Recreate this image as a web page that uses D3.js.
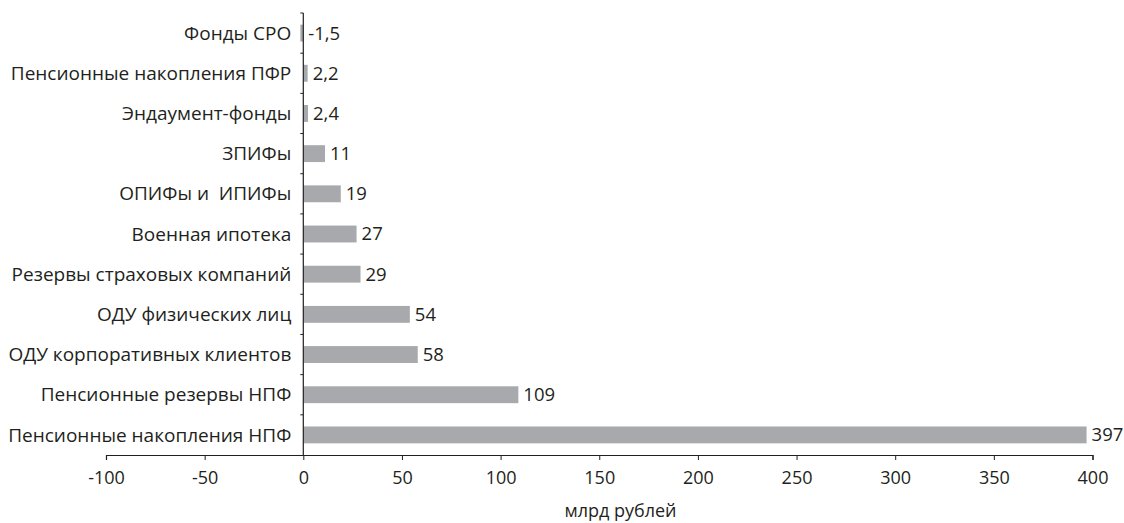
<!DOCTYPE html>
<html><head><meta charset="utf-8">
<script src="https://cdn.jsdelivr.net/npm/d3@7"></script>
<style>body{margin:0;background:#fff}text{font-family:"Open Sans","Noto Sans",sans-serif;fill:#231f20;white-space:pre}</style>
</head><body><svg id="c" width="1124" height="523"></svg>
<script>
const categories = ["Фонды СРО","Пенсионные накопления ПФР","Эндаумент-фонды","ЗПИФы","ОПИФы и  ИПИФы","Военная ипотека","Резервы страховых компаний","ОДУ физических лиц","ОДУ корпоративных клиентов","Пенсионные резервы НПФ","Пенсионные накопления НПФ"];
const values = [-1.5,2.2,2.4,11,19,27,29,54,58,109,397];
const valueLabels = ["-1,5","2,2","2,4","11","19","27","29","54","58","109","397"];
const xTicks = [-100,-50,0,50,100,150,200,250,300,350,400];
const xTitle = "млрд рублей";

const svg = d3.select("#c");
const x = d3.scaleLinear().domain([-100,400]).range([106,1092.5]);
const y = d3.scaleBand().domain(categories).range([13,455]).paddingInner(0.58).paddingOuter(0.29);
const step = y.step();

svg.selectAll("rect.bar").data(values).join("rect")
  .attr("x",d=>x(Math.min(0,d))).attr("width",d=>Math.abs(x(d)-x(0)))
  .attr("y",(d,i)=>y(categories[i])).attr("height",y.bandwidth())
  .attr("fill","#a7a9ac");

svg.selectAll("text.val").data(values).join("text")
  .attr("x",d=>Math.max(x(d),x(0))+5).attr("y",(d,i)=>y(categories[i])+y.bandwidth()/2)
  .attr("dy","0.35em").attr("font-size",18.5).text((d,i)=>valueLabels[i]);

// y axis
const ya = svg.append("g");
ya.append("line").attr("x1",x(0)).attr("x2",x(0)).attr("y1",13).attr("y2",455).attr("stroke","#231f20").attr("stroke-width",1.2);
d3.range(categories.length).forEach(i=>{
  const yy = 13 + i*step;
  ya.append("line").attr("x1",x(0)-3).attr("x2",x(0)).attr("y1",yy).attr("y2",yy).attr("stroke","#231f20");
});
ya.selectAll("text").data(categories).join("text")
  .attr("x",x(0)-12).attr("y",d=>y(d)+y.bandwidth()/2).attr("dy","0.35em")
  .attr("text-anchor","end").attr("font-size",19).text(d=>d);

// x axis
const xa = svg.append("g").attr("transform","translate(0,455)")
  .call(d3.axisBottom(x).tickValues(xTicks).tickSize(5).tickPadding(11).tickFormat(d=>String(d)));
xa.attr("font-family",null).attr("font-size",null);
xa.select(".domain").attr("stroke","#231f20").attr("stroke-width",1.2);
xa.selectAll(".tick line").attr("stroke","#231f20");
xa.selectAll(".tick text").attr("font-size",18).style("fill","#231f20");

svg.append("text").attr("x",620.5).attr("y",517).attr("text-anchor","middle").attr("font-size",18).text(xTitle);
</script></body></html>
